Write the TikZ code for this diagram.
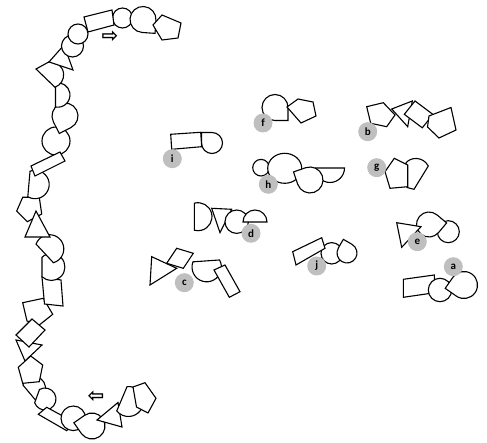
\documentclass[tikz,border=0pt]{standalone}
\usepackage{fontspec}
\setmainfont{Carlito}
\newfontfamily\symfont{DejaVu Sans}
\newcommand\tear[4]{\draw[shp] ({#1+1.41421*#3*cos(#4)},{#2+1.41421*#3*sin(#4)}) -- ({#1+#3*cos(#4+45)},{#2+#3*sin(#4+45)}) arc[start angle={#4+45}, end angle={#4+315}, radius=#3] -- cycle;}
\newcommand\chordshape[5]{\draw[shp] ({#1+#3*cos(#4)},{#2+#3*sin(#4)}) arc[start angle=#4, end angle=#5, radius=#3] -- cycle;}
\newcommand\circshape[3]{\draw[shp] (#1,#2) circle[radius=#3];}
\begin{document}
\begin{tikzpicture}[x=1pt,y=-1pt,
  shp/.style={draw=black, fill=white, line width=1.1pt, line join=miter},
  lab/.style={circle, fill=black!25, inner sep=0pt, minimum size=19pt, font=\fontsize{11}{12}\selectfont\bfseries},
  arr/.style={font=\symfont\bfseries\fontsize{20}{20}\selectfont, inner sep=0pt}]
\useasboundingbox (0,0) rectangle (487,443);
% ---------- chain ----------
\draw[shp] (22.7,302.7)--(43.3,298.3)--(52.7,314.3)--(39.3,325)--(27,321)--cycle;
\draw[shp] (42,277)--(61,280)--(63,306)--(44.5,304)--cycle;
\chordshape{51.4}{267}{13.5}{226}{494}
\chordshape{49.5}{249}{14.3}{200}{434}
\chordshape{34}{388}{11.5}{195}{445}
\chordshape{45}{399}{11}{240}{520}
\draw[shp] (38.3,414.3)--(46.7,407.3)--(73.3,421.7)--(66.7,430.7)--cycle;
\circshape{73.3}{418.3}{12.3}
\tear{92}{426}{13}{190}
\draw[shp] (97,420)--(118,402.5)--(122,427)--cycle;
\chordshape{128.4}{401.5}{15}{265}{501}
\draw[shp] (133,387)--(145,382.7)--(156,398.3)--(148,413)--(136.5,407)--cycle;
\draw[shp] (16,340)--(42,345)--(25,361)--cycle;
\draw[shp] (16,335)--(32,319)--(45,330)--(29,347)--cycle;
\draw[shp] (18.3,367.3)--(30.7,356)--(42.7,365)--(39.3,381.7)--(22.7,383.3)--cycle;
\draw[shp] (16.7,211)--(22.7,197.3)--(39.3,197.3)--(41.7,214)--(27.3,221.7)--cycle;
\draw[shp] (36,211)--(50,237)--(25,237)--cycle;
\chordshape{35}{184.5}{14.2}{249.5}{480.5}
\circshape{56}{141}{14}
\draw[shp] (31,166)--(60,152)--(65,161)--(35,176)--cycle;
\tear{65}{116}{13}{108}
\chordshape{57.8}{95}{12.2}{259}{461}
\draw[shp] (36,69) -- (49.3,61.7) arc[start angle=265, end angle=430, radius=13.2] -- cycle;
\draw[shp] (49,62)--(64,45)--(73,70)--cycle;
\circshape{72.5}{46}{11}
\circshape{78}{34}{10}
\circshape{122.5}{18}{10}
\draw[shp] (84,17)--(112,10)--(114,25)--(88,32)--cycle;
\tear{143}{19.5}{13}{49}
\draw[shp] (162,15)--(181,23)--(178,38)--(162,40)--(153,25)--cycle;
\node[arr] (arrR) at (110,37) {⇨};
\node[arr] (arrL) at (96,397) {⇦};
% ---------- f ----------
\tear{275}{107.5}{13}{45}
\draw[shp] (287,107)--(298,99)--(313,102)--(316,116)--(301,123)--cycle;
\node[lab] (lf) at (263,123) {f};
% ---------- i ----------
\tear{212}{143}{10.5}{225}
\draw[shp] (170.7,134.3)--(200.7,132.3)--(201.7,146.7)--(171.7,149.3)--cycle;
\node[lab] (li) at (172.3,158.7) {i};
% ---------- h ----------
\circshape{261}{167.7}{8.3}
\draw[shp] (284.7,168.3) ellipse[x radius=17, y radius=15];
\chordshape{330}{168}{14.5}{0}{180}
\tear{310}{180}{13}{206}
\node[lab] (lh) at (268.3,184.3) {h};
% ---------- d ----------
\chordshape{198}{216.7}{14}{255}{465}
\draw[shp] (211.7,208.3)--(231.7,209.3)--(220,232.7)--cycle;
\circshape{236.7}{221.7}{11.7}
\chordshape{255}{222}{12}{180}{360}
\node[lab] (ld) at (251,233.3) {d};
% ---------- c ----------
\draw[shp] (166.7,263.3)--(176.7,248.3)--(193.3,253.3)--(183.3,268.3)--cycle;
\draw[shp] (151.7,256.7)--(176.7,268.3)--(150,285)--cycle;
\chordshape{206.7}{267.1}{14.7}{331}{561}
\draw[shp] (214,270)--(225,265)--(240,291.7)--(229.3,297.3)--cycle;
\node[lab] (lc) at (184.3,282.7) {c};
% ---------- j ----------
\circshape{331.7}{253.3}{10.7}
\tear{347}{253}{10}{255}
\draw[shp] (292.7,251.7)--(321.7,237.7)--(325,248.3)--(296,265)--cycle;
\node[lab] (lj) at (316.7,266) {j};
% ---------- e ----------
\circshape{448.3}{231.7}{11}
\tear{429}{224.5}{12.5}{-5}
\draw[shp] (396.7,222.7)--(421,226.7)--(401.7,247.3)--cycle;
\node[lab] (le) at (417.3,241.7) {e};
% ---------- a ----------
\draw[shp] (403.3,279.3)--(434.3,275)--(435,292.7)--(403.3,297.3)--cycle;
\circshape{440}{290}{11.7}
\tear{464}{285}{13.5}{170}
\node[lab] (la) at (453.3,266.7) {a};
% ---------- b ----------
\draw[shp] (391.7,109)--(412.3,101)--(407.7,126.7)--cycle;
\draw[shp] (366.7,106.7)--(383.3,102.7)--(395,115)--(386.7,126.7)--(370.7,123.3)--cycle;
\draw[shp] (404.3,114.3)--(415,101)--(433,114.5)--(422.3,127.8)--cycle;
\draw[shp] (429,116)--(451,107.5)--(456,130)--(439,138)--(427.5,127)--cycle;
\node[lab] (lb) at (367.7,131.7) {b};
% ---------- g ----------
\draw[shp] (407,187.5) -- (406,163) .. controls (410,157) and (423,156) .. (428.3,166) -- (414,189.3) -- cycle;
\draw[shp] (385,171.7)--(394.3,158.3)--(407.7,165)--(407.7,186.7)--(390,188.3)--cycle;
\node[lab] (lg) at (376.7,167.7) {g};
\end{tikzpicture}
\end{document}
